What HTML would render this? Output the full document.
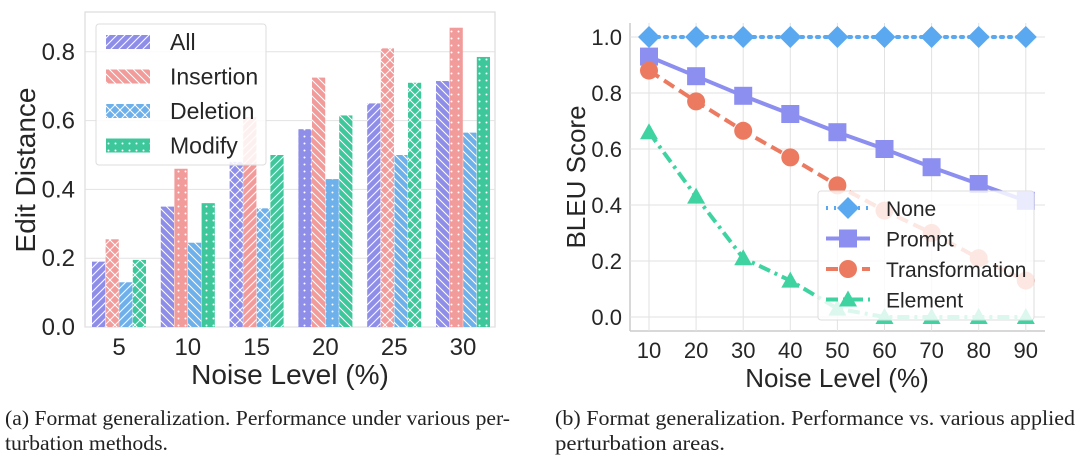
<!DOCTYPE html>
<html><head><meta charset="utf-8"><style>
body{margin:0;background:#fff;width:1080px;height:467px;overflow:hidden}
svg text{font-family:"Liberation Sans",sans-serif;fill:#262626}
.cap{font-family:"Liberation Serif",serif;font-size:21px;fill:#222}
</style></head><body>
<svg id="s" width="1080" height="467" viewBox="0 0 1080 467" xmlns="http://www.w3.org/2000/svg"></svg>
<script>
const s=document.getElementById('s');let h='';
const cols={A:'#8e8ee8',I:'#f19b9b',D:'#6eb0ea',M:'#3ec79b'};
let defs='<defs>';
for(const k in cols){const c=cols[k];
defs+=`<pattern id="${k}f" width="8" height="8" patternUnits="userSpaceOnUse"><rect width="8" height="8" fill="${c}"/><path d="M-2,10 L10,-2 M-2,2 L2,-2 M6,10 L10,6" stroke="#fff" stroke-width="1"/></pattern>`;
defs+=`<pattern id="${k}b" width="8" height="8" patternUnits="userSpaceOnUse"><rect width="8" height="8" fill="${c}"/><path d="M-2,-2 L10,10 M-2,6 L2,10 M6,-2 L10,2" stroke="#fff" stroke-width="1"/></pattern>`;
defs+=`<pattern id="${k}x" width="10" height="10" patternUnits="userSpaceOnUse"><rect width="10" height="10" fill="${c}"/><path d="M0,0 L10,10 M10,0 L0,10" stroke="#fff" stroke-width="1"/></pattern>`;
defs+=`<pattern id="${k}d" width="7" height="7" patternUnits="userSpaceOnUse"><rect width="7" height="7" fill="${c}"/><circle cx="3.5" cy="3.5" r="1" fill="#fff"/></pattern>`;}
defs+='</defs>';h+=defs;
const L=85,R=495,T=12,B=327,sc=344;
h+=`<rect x="${L}" y="${T}" width="${R-L}" height="${B-T}" fill="#fff" stroke="#ddd" stroke-width="1.2"/>`;
for(let i=0;i<=4;i++){const y=B-i*0.2*sc;h+=`<line x1="${L}" x2="${R}" y1="${y}" y2="${y}" stroke="#e2e2e2"/>`;
h+=`<text x="75" y="${y+8}" font-size="24" text-anchor="end">${(i*0.2).toFixed(1)}</text>`;}
const data=[[.19,.255,.13,.195],[.35,.46,.245,.36],[.48,.61,.345,.50],[.575,.725,.43,.615],[.65,.81,.50,.71],[.715,.87,.565,.785]];
const pats=[['f','x','f','x'],['b','d','b','d'],['x','f','x','f'],['d','b','d','b'],['f','x','b','x'],['b','d','b','d']];
const ks=['A','I','D','M'],xl=[5,10,15,20,25,30];
data.forEach((g,gi)=>{const cx=119+gi*68.8;g.forEach((v,i)=>{const x=cx-27+i*13.6;const y=B-v*sc;
h+=`<rect x="${x}" y="${y}" width="13.2" height="${B-y}" fill="url(#${ks[i]}${pats[gi][i]})"/>`;});
h+=`<text x="${cx}" y="355" font-size="24" text-anchor="middle">${xl[gi]}</text>`;});
h+=`<text x="290" y="384" font-size="28" text-anchor="middle">Noise Level (%)</text>`;
h+=`<text transform="translate(35,170) rotate(-90)" font-size="28" text-anchor="middle">Edit Distance</text>`;
h+=`<rect x="96" y="24" width="170" height="141" rx="3" fill="#fff" fill-opacity="0.85" stroke="#ddd"/>`;
const ln=['All','Insertion','Deletion','Modify'],lp=['f','b','x','d'];
ln.forEach((t,i)=>{const y=42+i*34.5;h+=`<rect x="106" y="${y-7}" width="44" height="14" fill="url(#${ks[i]}${lp[i]})"/><text x="170" y="${y+8}" font-size="23">${t}</text>`;});
const L2=630,R2=1045,B2=331,y0=317,y1=37,x0=649,dx=47.1;
const Y=v=>y0-(y0-y1)*v, X=i=>x0+i*dx;
h+=`<line x1="${L2}" x2="${R2}" y1="${B2}" y2="${B2}" stroke="#ccc" stroke-width="1.5"/><line x1="${L2}" x2="${L2}" y1="23" y2="${B2}" stroke="#ccc" stroke-width="1.5"/>`;
for(let i=0;i<9;i++){h+=`<line x1="${X(i)}" x2="${X(i)}" y1="23" y2="${B2}" stroke="#e2e2e2"/><text x="${X(i)}" y="358" font-size="22" text-anchor="middle">${(i+1)*10}</text>`;}
for(let i=0;i<=5;i++){const y=Y(i*0.2);h+=`<line x1="${L2}" x2="${R2}" y1="${y}" y2="${y}" stroke="#e2e2e2"/><text x="622" y="${y+8}" font-size="22" text-anchor="end">${(i*0.2).toFixed(1)}</text>`;}
h+=`<text x="837" y="387" font-size="26" text-anchor="middle">Noise Level (%)</text>`;
h+=`<text transform="translate(585,177) rotate(-90)" font-size="26" text-anchor="middle">BLEU Score</text>`;
const S=[
{d:[1,1,1,1,1,1,1,1,1],c:'#5aa9f0',da:'2 6',m:'dia'},
{d:[.93,.86,.79,.725,.66,.6,.535,.475,.415],c:'#8d8ff0',da:'',m:'sq'},
{d:[.88,.77,.665,.57,.47,.38,.3,.21,.13],c:'#ec7a60',da:'12 6',m:'ci'},
{d:[.66,.43,.21,.13,.03,0,0,0,0],c:'#3fd3a1',da:'12 5 3 5',m:'tri'}];
function mk(m,x,y,c){if(m=='dia')return `<path d="M${x},${y-11} L${x+11},${y} L${x},${y+11} L${x-11},${y}Z" fill="${c}"/>`;
if(m=='sq')return `<rect x="${x-9}" y="${y-9}" width="18" height="18" fill="${c}"/>`;
if(m=='ci')return `<circle cx="${x}" cy="${y}" r="9" fill="${c}"/>`;
return `<path d="M${x},${y-9} L${x+9},${y+7} L${x-9},${y+7}Z" fill="${c}"/>`;}
S.forEach(o=>{const p=o.d.map((v,i)=>X(i)+','+Y(v)).join(' ');
h+=`<polyline points="${p}" fill="none" stroke="${o.c}" stroke-width="4" ${o.da?'stroke-dasharray="'+o.da+'"':''} stroke-linecap="${o.m=='dia'?'round':'butt'}"/>`;
o.d.forEach((v,i)=>h+=mk(o.m,X(i),Y(v),o.c));});
h+=`<rect x="818" y="191" width="216" height="129" rx="3" fill="#fff" fill-opacity="0.82" stroke="#ddd"/>`;
['None','Prompt','Transformation','Element'].forEach((t,i)=>{const y=208+i*30.5,o=S[i];
h+=`<line x1="826" x2="870" y1="${y}" y2="${y}" stroke="${o.c}" stroke-width="4" ${o.da?'stroke-dasharray="'+o.da+'"':''}/>`+mk(o.m,848,y,o.c)+`<text x="886" y="${y+8}" font-size="21">${t}</text>`;});
h+=`<text class="cap" x="5" y="425" textLength="505" lengthAdjust="spacingAndGlyphs">(a) Format generalization. Performance under various per-</text>`;
h+=`<text class="cap" x="5" y="450" textLength="163" lengthAdjust="spacingAndGlyphs">turbation methods.</text>`;
h+=`<text class="cap" x="555" y="425" textLength="520" lengthAdjust="spacingAndGlyphs">(b) Format generalization. Performance vs. various applied</text>`;
h+=`<text class="cap" x="555" y="450" textLength="170" lengthAdjust="spacingAndGlyphs">perturbation areas.</text>`;
s.innerHTML=h;
</script>
</body></html>
